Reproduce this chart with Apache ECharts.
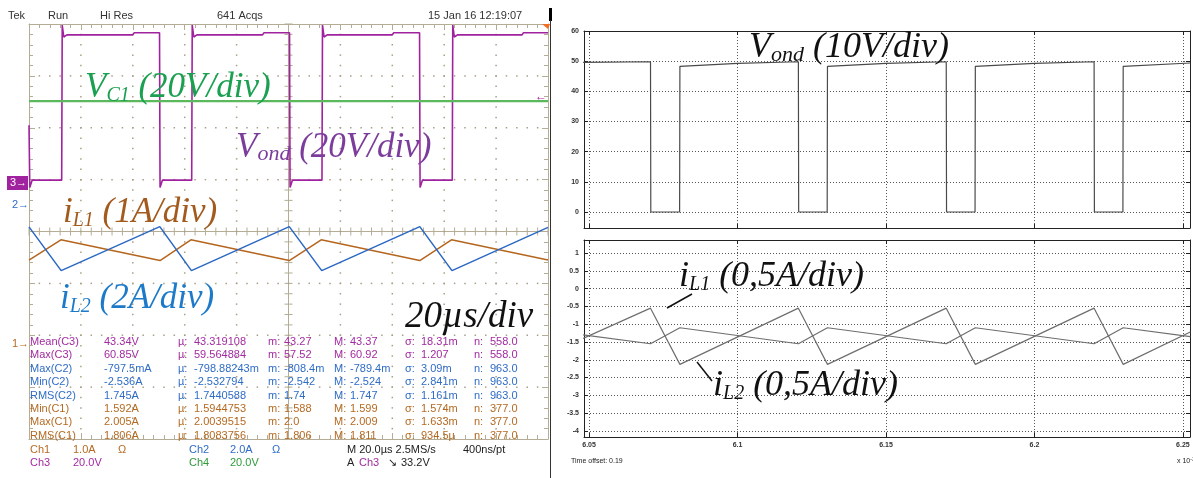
<!DOCTYPE html>
<html><head><meta charset="utf-8">
<script src="https://cdn.jsdelivr.net/npm/echarts@6/dist/echarts.min.js"></script>
<style>html,body{margin:0;padding:0;background:#fff}#c{width:1193px;height:478px}</style>
</head><body><div id="c"></div>
<script>
// ================= DATA =================
// --- Oscilloscope (left), time in µs (20 µs/div), channel values in physical units
const vondScope = [[0,22],[0.3,-2],[1.2,0.8],[12.6,0.8],[12.8,60.6],[13.4,56],[14.6,56.8],[40,56.8],[40.5,57.6],[50.3,57.6],[50.5,-2],[51.4,0.8],[62.7,0.8],[62.9,60.6],[63.5,56],[64.7,56.8],[90,56.8],[90.5,57.6],[100.4,57.6],[100.6,-2],[101.5,0.8],[112.9,0.8],[113.1,60.6],[113.7,56],[114.9,56.8],[140,56.8],[140.5,57.6],[150.5,57.6],[150.7,-2],[151.6,0.8],[163.1,0.8],[163.3,60.6],[163.9,56],[165.1,56.8],[190,56.8],[190.5,57.6],[200,57.6]]; // V
const vc1Scope = [[0,31.3],[200,31.3]]; // V
const iL1Scope = [[0,1.61],[12.3,2.0],[50.5,1.6],[62.4,2.0],[100.3,1.6],[112.6,2.0],[150.6,1.6],[162.8,2.0],[200,1.61]]; // A
const iL2Scope = [[0,-0.82],[12.4,-2.51],[50.4,-0.81],[62.6,-2.51],[100.3,-0.81],[112.8,-2.51],[150.6,-0.81],[163,-2.51],[200,-0.84]]; // A
// channel settings: units per division and ground marker (divisions from centre)
const chScale = {c1:1, c2:2, c3:20, c4:20};
const chGround = {c1:-2.16, c2:0.5, c3:0.95, c4:0.95};

// measurement table
const measLabel = ['Mean(C3)','Max(C3)','Max(C2)','Min(C2)','RMS(C2)','Min(C1)','Max(C1)','RMS(C1)'];
const measValue = ['43.34V','60.85V','-797.5mA','-2.536A','1.745A','1.592A','2.005A','1.806A'];
const measMean  = ['43.319108','59.564884','-798.88243m','-2.532794','1.7440588','1.5944753','2.0039515','1.8083756'];
const measMin   = ['43.27','57.52','-808.4m','-2.542','1.74','1.588','2.0','1.806'];
const measMax   = ['43.37','60.92','-789.4m','-2.524','1.747','1.599','2.009','1.811'];
const measSigma = ['18.31m','1.207','3.09m','2.841m','1.161m','1.574m','1.633m','934.5µ'];
const measN     = ['558.0','558.0','963.0','963.0','963.0','377.0','377.0','377.0'];
const measChan  = ['c3','c3','c2','c2','c2','c1','c1','c1'];

// --- Simulation (right), time in ms (x10^-3 s)
const simXTicks = [6.05, 6.1, 6.15, 6.2, 6.25];
const simTopYTicks = [0, 10, 20, 30, 40, 50, 60];
const simBotYTicks = [-4, -3.5, -3, -2.5, -2, -1.5, -1, -0.5, 0, 0.5, 1];
const vondSim = [[6.048,49.6],[6.0707,49.8],[6.0708,0],[6.0805,0],[6.0806,48.3],[6.1,49.3],[6.1205,49.8],[6.1206,0],[6.1302,0],[6.1303,48.3],[6.15,49.3],[6.1703,49.8],[6.1704,0],[6.18,0],[6.1801,48.3],[6.2,49.3],[6.2201,49.8],[6.2202,0],[6.2298,0],[6.2299,48.3],[6.2525,49.4]]; // V
const iL1Sim = [[6.048,-1.30],[6.0707,-1.55],[6.0806,-1.10],[6.1205,-1.55],[6.1303,-1.10],[6.1703,-1.55],[6.1801,-1.10],[6.2201,-1.55],[6.2299,-1.10],[6.2525,-1.35]]; // A
const iL2Sim = [[6.048,-1.40],[6.0707,-0.55],[6.0806,-2.13],[6.1205,-0.55],[6.1303,-2.13],[6.1703,-0.55],[6.1801,-2.13],[6.2201,-0.55],[6.2299,-2.13],[6.2525,-1.22]]; // A

// ================= STYLE / LAYOUT =================
const SANS = "'Liberation Sans', Arial, sans-serif";
const SERIF = "'Liberation Serif', 'DejaVu Serif', serif";
const grat = '#b5ac95';
const col = {c1:'#b5651d', c2:'#2a68c4', c3:'#a0229e', c4:'#5cb85c'};
const txtCol = {c1:'#b56a22', c2:'#2f6cc6', c3:'#a22aa0', c4:'#2e9a3c'};

const toDiv = (arr, c) => arr.map(p => [p[0], chGround[c] + p[1] / chScale[c]]);

function scopeAxis(dim, pos) {
  const isX = dim === 'x';
  return {
    gridIndex: 0, type: 'value', position: pos,
    min: isX ? 0 : -4, max: isX ? 200 : 4, interval: isX ? 20 : 1,
    axisLine: {show: true, onZero: false, lineStyle: {color: grat, width: 1}},
    axisTick: {show: true, inside: true, length: 6, lineStyle: {color: grat}},
    minorTick: {show: true, splitNumber: 5, length: 4, lineStyle: {color: grat}},
    axisLabel: {show: false},
    splitLine: {show: false}
  };
}
function simAxis(gi, dim, pos, min, max, ticks, labels, split) {
  return {
    gridIndex: gi, type: 'value', position: pos, min, max,
    axisLine: {show: true, onZero: false, lineStyle: {color: '#222', width: 1}},
    axisTick: {show: true, inside: true, length: 4, customValues: ticks, lineStyle: {color: '#222'}},
    axisLabel: {show: labels, customValues: ticks, fontSize: 7, color: '#333', fontFamily: SANS, fontWeight: 'bold', margin: 5},
    splitLine: {show: split, lineStyle: {color: '#555', width: 1, type: [1, 2]}}
  };
}

const SIMX = [6.0483, 6.2524];

// ---------- graphic texts ----------
const G = [];
function txt(x, y, s, color, size, extra) {
  G.push({type: 'text', x, y, silent: true, z: 50,
    style: Object.assign({text: s, fill: color, fontSize: size, fontFamily: SANS, verticalAlign: 'middle', align: 'left'}, extra || {})});
}
function ann(x, baseline, main, sub, rest, color, F, Fs) {
  G.push({type: 'text', x, y: baseline - 0.84 * F, silent: true, z: 60,
    style: {text: '{m|' + main + '}{s|' + sub + '}{m|' + rest + '}', verticalAlign: 'top', align: 'left',
      rich: {
        m: {fontFamily: SERIF, fontSize: F, fontStyle: 'italic', fill: color, verticalAlign: 'bottom', lineHeight: F},
        s: {fontFamily: SERIF, fontSize: Fs, fontStyle: 'italic', fill: color, verticalAlign: 'bottom', lineHeight: Fs}
      }}});
}
// status bar
txt(8, 16, 'Tek', '#333', 11);
txt(48, 16, 'Run', '#333', 11);
txt(100, 16, 'Hi Res', '#333', 11);
txt(217, 16, '641 Acqs', '#333', 11);
txt(428, 16, '15 Jan 16 12:19:07', '#333', 11);
// measurement table
const colX = [30, 104, 178, 268, 334, 405, 474];
const prefix = ['µ:', 'm:', 'M:', 'σ:', 'n:'];
measLabel.forEach((lab, i) => {
  const y = 342 + 13.4 * i, c = txtCol[measChan[i]];
  txt(colX[0], y, lab, c, 11);
  txt(colX[1], y, measValue[i], c, 11);
  [measMean, measMin, measMax, measSigma, measN].forEach((arr, k) => {
    txt(colX[2 + k], y, prefix[k], c, 11);
    txt(colX[2 + k] + 16, y, arr[i], c, 11);
  });
});
// channel settings lines
txt(30, 450, 'Ch1', txtCol.c1, 11); txt(73, 450, '1.0A', txtCol.c1, 11); txt(118, 450, 'Ω', txtCol.c1, 11);
txt(189, 450, 'Ch2', txtCol.c2, 11); txt(230, 450, '2.0A', txtCol.c2, 11); txt(272, 450, 'Ω', txtCol.c2, 11);
txt(347, 450, 'M 20.0µs 2.5MS/s', '#222', 11); txt(463, 450, '400ns/pt', '#222', 11);
txt(30, 463, 'Ch3', txtCol.c3, 11); txt(73, 463, '20.0V', txtCol.c3, 11);
txt(189, 463, 'Ch4', txtCol.c4, 11); txt(230, 463, '20.0V', txtCol.c4, 11);
txt(347, 463, 'A', '#222', 11); txt(359, 463, 'Ch3', txtCol.c3, 11); txt(388, 463, '↘', '#222', 11); txt(401, 463, '33.2V', '#222', 11);
// ground markers
G.push({type: 'rect', shape: {x: 7, y: 176, width: 21, height: 14}, style: {fill: '#a0229e'}, silent: true, z: 50});
txt(10, 183, '3→', '#fff', 11);
txt(12, 205, '2→', txtCol.c2, 11);
txt(12, 344, '1→', txtCol.c1, 11);
txt(535, 97, '←', col.c3, 12);
// corner marks
G.push({type: 'polygon', shape: {points: [[542, 24], [550, 24], [548, 29]]}, style: {fill: '#f26d21'}, silent: true, z: 50});
G.push({type: 'rect', shape: {x: 549, y: 8, width: 3, height: 13}, style: {fill: '#000'}, silent: true, z: 50});
G.push({type: 'line', shape: {x1: 550.5, y1: 20, x2: 550.5, y2: 478}, style: {stroke: '#333', lineWidth: 1}, silent: true, z: 50});
// annotations (scope)
ann(85, 100, 'V', 'C1', ' (20V/div)', '#1aa050', 35, 20);
ann(236, 160, 'V', 'ond', ' (20V/div)', '#7b3c9c', 35, 22);
ann(63, 225, 'i', 'L1', ' (1A/div)', '#a35a1d', 35, 20);
ann(60, 311, 'i', 'L2', ' (2A/div)', '#1c7ac9', 35, 20);
ann(405, 330, '20µs/div', '', '', '#111', 37, 20);
// annotations (simulation)
ann(749, 60, 'V', 'ond', ' (10V/div)', '#111', 36, 22);
ann(679, 289, 'i', 'L1', ' (0,5A/div)', '#111', 36, 20);
ann(713, 398, 'i', 'L2', ' (0,5A/div)', '#111', 36, 20);
G.push({type: 'line', shape: {x1: 667, y1: 308, x2: 692, y2: 294}, style: {stroke: '#111', lineWidth: 1.5}, silent: true, z: 60});
G.push({type: 'line', shape: {x1: 697, y1: 362, x2: 712, y2: 381}, style: {stroke: '#111', lineWidth: 1.5}, silent: true, z: 60});
txt(571, 461, 'Time offset: 0.19', '#222', 7);
G.push({type: 'text', x: 1177, y: 461, silent: true, z: 50,
  style: {text: '{a|x 10}{b|-3}', verticalAlign: 'middle', align: 'left',
    rich: {a: {fontSize: 7, fontFamily: SANS, fill: '#222', verticalAlign: 'bottom'}, b: {fontSize: 5, fontFamily: SANS, fill: '#222', verticalAlign: 'top'}}}});

// ================= CHART =================
const chart = echarts.init(document.getElementById('c'), null, {renderer: 'canvas', width: 1193, height: 478});
chart.setOption({
  animation: false,
  backgroundColor: '#fff',
  grid: [
    {left: 29, top: 24, width: 519, height: 415},
    {left: 584, top: 31, width: 606, height: 197},
    {left: 584, top: 240, width: 606, height: 197}
  ],
  xAxis: [
    scopeAxis('x', 'bottom'), scopeAxis('x', 'top'),
    simAxis(1, 'x', 'bottom', SIMX[0], SIMX[1], simXTicks, false, true),
    simAxis(1, 'x', 'top', SIMX[0], SIMX[1], simXTicks, false, false),
    simAxis(2, 'x', 'bottom', SIMX[0], SIMX[1], simXTicks, true, true),
    simAxis(2, 'x', 'top', SIMX[0], SIMX[1], simXTicks, false, false)
  ],
  yAxis: [
    scopeAxis('y', 'left'), scopeAxis('y', 'right'),
    simAxis(1, 'y', 'left', -5.3, 60, simTopYTicks, true, true),
    simAxis(1, 'y', 'right', -5.3, 60, simTopYTicks, false, false),
    simAxis(2, 'y', 'left', -4.17, 1.365, simBotYTicks, true, true),
    simAxis(2, 'y', 'right', -4.17, 1.365, simBotYTicks, false, false)
  ],
  graphic: G,
  series: [
    { // scope graticule: centre cross with ticks, dotted division lines
      type: 'custom', xAxisIndex: 0, yAxisIndex: 0, data: [[0, 0]], silent: true, z: 1,
      renderItem: function (params, api) {
        const ch = [];
        const tl = api.coord([0, 4]), br = api.coord([200, -4]), c = api.coord([100, 0]);
        const st = {stroke: grat, lineWidth: 1};
        const dot = {fill: '#a89f86'};
        ch.push({type: 'line', shape: {x1: tl[0], y1: c[1], x2: br[0], y2: c[1]}, style: st});
        ch.push({type: 'line', shape: {x1: c[0], y1: tl[1], x2: c[0], y2: br[1]}, style: st});
        for (let i = 0; i <= 50; i++) {
          const p = api.coord([i * 4, 0]);
          ch.push({type: 'line', shape: {x1: p[0], y1: p[1] - 4, x2: p[0], y2: p[1] + 4}, style: st});
        }
        for (let i = -20; i <= 20; i++) {
          const p = api.coord([100, i / 5]);
          ch.push({type: 'line', shape: {x1: p[0] - 4, y1: p[1], x2: p[0] + 4, y2: p[1]}, style: st});
        }
        for (let k = 1; k <= 9; k++) {
          if (k === 5) continue;
          for (let i = -19; i <= 19; i++) {
            const p = api.coord([k * 20, i / 5]);
            ch.push({type: 'rect', shape: {x: p[0] - 0.75, y: p[1] - 0.75, width: 1.5, height: 1.5}, style: dot});
          }
        }
        for (let d = -3; d <= 3; d++) {
          if (d === 0) continue;
          for (let i = 1; i < 50; i++) {
            const p = api.coord([i * 4, d]);
            ch.push({type: 'rect', shape: {x: p[0] - 0.75, y: p[1] - 0.75, width: 1.5, height: 1.5}, style: dot});
          }
        }
        return {type: 'group', children: ch};
      }
    },
    {type: 'line', xAxisIndex: 0, yAxisIndex: 0, data: toDiv(vondScope, 'c3'), showSymbol: false, z: 3,
      lineStyle: {color: col.c3, width: 1.6}},
    {type: 'line', xAxisIndex: 0, yAxisIndex: 0, data: toDiv(iL1Scope, 'c1'), showSymbol: false, z: 3,
      lineStyle: {color: col.c1, width: 1.5}},
    {type: 'line', xAxisIndex: 0, yAxisIndex: 0, data: toDiv(iL2Scope, 'c2'), showSymbol: false, z: 4,
      lineStyle: {color: col.c2, width: 1.5}},
    {type: 'line', xAxisIndex: 0, yAxisIndex: 0, data: toDiv(vc1Scope, 'c4'), showSymbol: false, z: 5,
      lineStyle: {color: col.c4, width: 2.2}},
    {type: 'line', xAxisIndex: 2, yAxisIndex: 2, data: vondSim, showSymbol: false, z: 3,
      lineStyle: {color: '#4a4a4a', width: 1.2}},
    {type: 'line', xAxisIndex: 4, yAxisIndex: 4, data: iL1Sim, showSymbol: false, z: 3,
      lineStyle: {color: '#6e6e6e', width: 1.2}},
    {type: 'line', xAxisIndex: 4, yAxisIndex: 4, data: iL2Sim, showSymbol: false, z: 3,
      lineStyle: {color: '#6e6e6e', width: 1.2}}
  ]
});
</script></body></html>
